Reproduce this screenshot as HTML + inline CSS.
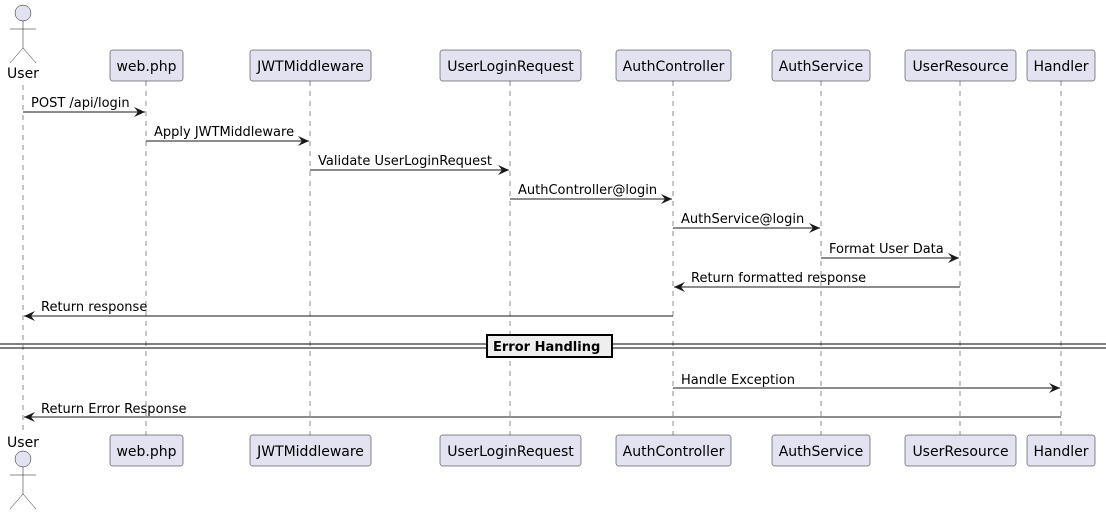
<!DOCTYPE html>
<html><head><meta charset="utf-8"><style>
html,body{margin:0;padding:0;background:#fff;}
svg{display:block;}
text{font-family:"DejaVu Sans","Liberation Sans",sans-serif;font-size:13px;fill:#000;}
.bt{font-size:14px;}
.ll{stroke:#181818;stroke-width:0.5;stroke-dasharray:5,5;}
.box{fill:#E2E2F0;stroke:#181818;stroke-width:0.5;}
.m{stroke:#181818;stroke-width:1;}
.act{fill:none;stroke:#181818;stroke-width:0.5;}
</style></head><body>
<svg width="1106" height="515" viewBox="0 0 1106 515" xmlns="http://www.w3.org/2000/svg">
<defs>
<marker id="ar" markerWidth="12" markerHeight="10" refX="11" refY="5" orient="auto" markerUnits="userSpaceOnUse">
<path d="M0,0 L11,5 L0,10 L4,5 Z" fill="#181818"/>
</marker>
</defs>
<g class="ll">
<line x1="23" y1="85" x2="23" y2="435"/>
<line x1="146" y1="81" x2="146" y2="435"/>
<line x1="310" y1="81" x2="310" y2="435"/>
<line x1="510" y1="81" x2="510" y2="435"/>
<line x1="673" y1="81" x2="673" y2="435"/>
<line x1="821" y1="81" x2="821" y2="435"/>
<line x1="960" y1="81" x2="960" y2="435"/>
<line x1="1061" y1="81" x2="1061" y2="435"/>
</g>
<circle cx="23" cy="13" r="8" fill="#E2E2F0" stroke="#181818" stroke-width="0.5"/>
<path class="act" d="M23,21 V48 M10,29 H36 M23,48 L10,63 M23,48 L36,63"/>
<text x="23" y="78" text-anchor="middle" class="bt">User</text>
<text x="23" y="447" text-anchor="middle" class="bt">User</text>
<circle cx="23" cy="459" r="8" fill="#E2E2F0" stroke="#181818" stroke-width="0.5"/>
<path class="act" d="M23,467 V494 M10,475 H36 M23,494 L10,509 M23,494 L36,509"/>
<g class="bt">
<rect class="box" x="110" y="50" width="73" height="31" rx="2.5"/><text class="bt" x="146.5" y="71" text-anchor="middle">web.php</text>
<rect class="box" x="250" y="50" width="121" height="31" rx="2.5"/><text class="bt" x="310.5" y="71" text-anchor="middle">JWTMiddleware</text>
<rect class="box" x="440" y="50" width="141" height="31" rx="2.5"/><text class="bt" x="510.5" y="71" text-anchor="middle">UserLoginRequest</text>
<rect class="box" x="616" y="50" width="115" height="31" rx="2.5"/><text class="bt" x="673.5" y="71" text-anchor="middle">AuthController</text>
<rect class="box" x="772" y="50" width="98" height="31" rx="2.5"/><text class="bt" x="821" y="71" text-anchor="middle">AuthService</text>
<rect class="box" x="905" y="50" width="111" height="31" rx="2.5"/><text class="bt" x="960.5" y="71" text-anchor="middle">UserResource</text>
<rect class="box" x="1027" y="50" width="68" height="31" rx="2.5"/><text class="bt" x="1061" y="71" text-anchor="middle">Handler</text>

<rect class="box" x="110" y="435" width="73" height="31" rx="2.5"/><text class="bt" x="146.5" y="456" text-anchor="middle">web.php</text>
<rect class="box" x="250" y="435" width="121" height="31" rx="2.5"/><text class="bt" x="310.5" y="456" text-anchor="middle">JWTMiddleware</text>
<rect class="box" x="440" y="435" width="141" height="31" rx="2.5"/><text class="bt" x="510.5" y="456" text-anchor="middle">UserLoginRequest</text>
<rect class="box" x="616" y="435" width="115" height="31" rx="2.5"/><text class="bt" x="673.5" y="456" text-anchor="middle">AuthController</text>
<rect class="box" x="772" y="435" width="98" height="31" rx="2.5"/><text class="bt" x="821" y="456" text-anchor="middle">AuthService</text>
<rect class="box" x="905" y="435" width="111" height="31" rx="2.5"/><text class="bt" x="960.5" y="456" text-anchor="middle">UserResource</text>
<rect class="box" x="1027" y="435" width="68" height="31" rx="2.5"/><text class="bt" x="1061" y="456" text-anchor="middle">Handler</text>
</g>
<g class="m">
<line x1="23" y1="112" x2="145" y2="112" marker-end="url(#ar)"/>
<line x1="146" y1="141" x2="309" y2="141" marker-end="url(#ar)"/>
<line x1="310" y1="170" x2="509" y2="170" marker-end="url(#ar)"/>
<line x1="510" y1="199" x2="672" y2="199" marker-end="url(#ar)"/>
<line x1="673" y1="228" x2="820" y2="228" marker-end="url(#ar)"/>
<line x1="821" y1="258" x2="959" y2="258" marker-end="url(#ar)"/>
<line x1="960" y1="287" x2="674" y2="287" marker-end="url(#ar)"/>
<line x1="673" y1="316" x2="24" y2="316" marker-end="url(#ar)"/>
<line x1="673" y1="388" x2="1060" y2="388" marker-end="url(#ar)"/>
<line x1="1061" y1="417" x2="24" y2="417" marker-end="url(#ar)"/>
</g>
<text x="31" y="107">POST /api/login</text>
<text x="154" y="136">Apply JWTMiddleware</text>
<text x="318" y="165">Validate UserLoginRequest</text>
<text x="518" y="194">AuthController@login</text>
<text x="681" y="223">AuthService@login</text>
<text x="829" y="253">Format User Data</text>
<text x="691" y="282">Return formatted response</text>
<text x="41" y="311">Return response</text>
<text x="681" y="384">Handle Exception</text>
<text x="41" y="413">Return Error Response</text>
<line x1="0" y1="344" x2="1106" y2="344" stroke="#000" stroke-width="1"/>
<line x1="0" y1="348" x2="1106" y2="348" stroke="#000" stroke-width="1"/>
<rect x="487" y="335" width="125" height="22" fill="#EEEEEE" stroke="#000" stroke-width="2"/>
<text x="493" y="351" style="font-weight:bold">Error Handling</text>
</svg>
</body></html>
